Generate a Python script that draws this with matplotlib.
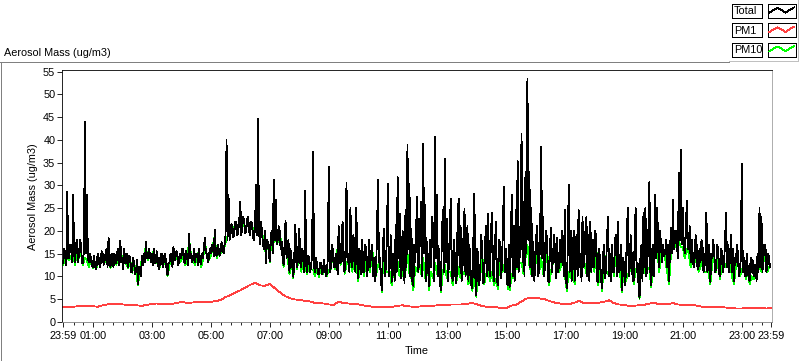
import numpy as np
import matplotlib
matplotlib.use("Agg")
import matplotlib.pyplot as plt
from matplotlib.lines import Line2D
from matplotlib.patches import Rectangle
from matplotlib.ticker import FixedLocator, NullFormatter

plt.rcParams['font.family'] = ['Liberation Sans', 'DejaVu Sans']

# ---------------- data ----------------
start_label = "23:59"
total_step_min = 2      # sampling interval of Total (minutes)
pm10_step_min = 4       # sampling interval of PM10 (minutes)
pm1_step_min = 10       # sampling interval of PM1 (minutes)

# one line per hour
total = [
    13, 16, 15, 12.5, 28.5, 14, 14, 17, 16, 13, 27.8, 15, 13, 17, 18, 13, 15, 18, 17, 13, 13, 16, 44, 15, 28, 14, 13, 15, 14, 12.5,
    12, 14.5, 13, 11.5, 12.5, 15, 14, 12, 13, 15.5, 15, 12.5, 13.5, 15, 16, 12, 18.5, 13, 12, 15, 14, 12, 15, 13, 13, 15.5, 16, 12.5, 17.8, 13,
    14, 11.5, 16, 13, 13, 15, 12, 14.5, 14, 11, 11, 14, 13, 10.5, 11, 13.5, 8.2, 12, 12, 10, 14.5, 12.5, 15, 13, 17.5, 14, 14, 16, 15, 13,
    15, 12.5, 16, 13, 13, 15.5, 14, 11.5, 12.5, 14.5, 15, 12, 13, 15, 14, 11.5, 10.3, 13, 13, 15, 14, 12, 16.5, 13.5, 14, 15.5, 15, 12.5, 13.5, 15,
    14, 16, 16, 13, 13, 15.5, 14, 12.5, 19.4, 14, 15, 13, 14, 16, 13, 15, 15, 12.5, 16, 13.5, 12.6, 15, 14, 16.5, 18.4, 15, 15, 13, 14, 16,
    15, 17, 17, 14.5, 20.2, 15, 14.5, 17, 16, 14.5, 15.5, 17.5, 16.5, 15, 17, 19, 40, 18, 28, 18, 19, 21.5, 21, 18.5, 20, 22, 22, 19, 20, 22.5,
    26.4, 19, 21, 23, 22, 19.5, 20, 22.5, 23, 20, 19, 22, 21.5, 18.5, 18, 21, 30, 19, 44.6, 20, 17, 22, 20, 17, 16, 20, 12.9, 18, 17.6, 15,
    13.3, 19, 20, 15, 31.2, 18, 26.8, 17, 18, 21, 20, 16, 17.6, 14, 12.5, 17, 22.2, 14, 15, 18, 11, 16, 14, 12, 9.9, 15, 21.4, 13, 12, 16,
    20.5, 13, 12, 16, 15, 11, 28.8, 12.5, 11, 14.5, 14, 11, 12, 15, 37.3, 12, 11, 14, 12.5, 10.5, 10.5, 13, 13, 10.5, 11, 13.5, 12, 10, 10.5, 14,
    34, 11, 12, 17, 16, 12, 12, 15, 14, 10.5, 21, 13, 13, 18, 22, 12, 11, 16, 30.5, 13, 15, 11, 25, 14, 12, 19, 17, 11, 25, 13,
    9.6, 16, 15, 10.5, 18, 11, 11, 17, 16, 10, 13, 18, 12, 15, 17, 10, 14, 9, 11, 19, 31.2, 13, 14, 9, 7, 16, 20.5, 10, 12, 18,
    30.4, 10, 12, 19, 8.8, 15, 13, 9, 21.2, 11, 31.8, 14, 23.8, 9.5, 11, 20, 14, 8.5, 24.7, 12, 38.8, 16, 30.4, 10, 20.4, 9, 7.9, 17, 13, 22,
    27.5, 11, 14, 22, 26.3, 10, 39.1, 15, 25.6, 9, 17.6, 12, 7.8, 18, 12, 23, 21, 9, 40.6, 14, 28, 10, 16, 8.5, 7, 19, 24.7, 11, 35.9, 13,
    22.7, 9, 12, 20, 27, 11, 9, 18, 15, 8.5, 10, 22, 27, 12, 21, 9, 12, 19, 24.8, 10, 13.3, 21, 9, 17, 12, 8, 7.4, 18, 28.2, 10,
    5.9, 16, 14, 8, 11, 19, 16, 8.5, 9, 18, 21, 10, 23.8, 12, 10, 20, 24, 11, 9, 17, 22, 9, 8, 18, 17.6, 9.5, 12, 20, 29.7, 11,
    16, 8.5, 8, 17, 7.7, 15, 28, 10, 21, 9, 24.7, 12, 35.3, 11, 14, 22, 41.3, 13, 26.3, 10, 33, 15, 53.4, 18, 33, 12, 25, 10, 17.6, 9,
    13, 19, 21, 10, 12, 20, 38.4, 14, 23, 10, 13, 20, 18, 9, 8.8, 17, 20.7, 11, 14, 19, 16, 9.5, 18.5, 11, 12, 18, 13, 20, 16, 10,
    24.7, 10, 7.4, 16, 30.1, 11, 20, 9, 14, 20, 9, 18, 19, 10, 24.7, 12, 15, 9, 23, 12, 14, 20, 23, 10, 19, 9, 22, 11, 15, 18,
    12, 20, 18, 9, 8.8, 16, 13, 9, 7.4, 15, 17, 9.5, 12, 19, 23, 10, 15, 9, 17, 11, 11, 18, 19, 10, 22, 11, 12, 17, 7, 14,
    13, 8, 10, 18, 25, 10, 12, 19, 15, 9, 9, 17, 25, 11, 13, 8, 5.2, 15, 17, 9, 24, 12, 25, 10, 13, 20, 30.7, 11, 8, 16,
    17, 10, 28, 14, 25, 16, 12, 20, 16, 13, 17, 14.5, 15, 18, 12, 17, 9, 16, 20.7, 15, 26.8, 16, 18, 20, 17, 14, 32.8, 18, 37.7, 17,
    25, 17, 15, 19, 26.5, 16, 16, 21, 13, 18, 15, 12, 14, 19, 17, 11.5, 12, 16, 13, 18, 17, 11, 12, 15, 24, 11, 12, 17, 8.8, 15,
    14, 18, 15, 11, 12, 17, 16, 10.5, 10, 16, 15, 11, 13, 18, 24, 12, 17, 11, 14, 19, 11, 16, 9, 14, 13, 17, 15, 10, 11, 14,
    34.8, 11, 14, 10, 10, 15, 12, 9.5, 9, 14, 11, 13.5, 10, 12.5, 12, 9, 15, 11, 25, 12, 23, 11, 14, 17, 17, 11, 12, 15, 13, 12,
]

pm10 = [
    12.5, 14, 14, 13.5, 14.5, 14.5, 12.5, 16, 14, 15.5, 12.5, 14, 13.5, 12, 13.5,
    11.8, 12.8, 12, 13.5, 12.8, 14.5, 13, 15.5, 17, 11.8, 13.5, 14.5, 12.5, 15.5, 16.5,
    13.5, 15.5, 12.8, 11.8, 13.5, 10.8, 12.8, 10.8, 8, 11.5, 14, 14.5, 16.5, 13.5, 14.5,
    14.5, 15.5, 12.8, 13.5, 12, 14.5, 12.5, 13.5, 10, 12.5, 13.5, 16, 13.5, 14.5, 13,
    13.5, 15.5, 12.5, 13.5, 18, 14.5, 13.5, 12.5, 14.5, 15.5, 12, 13.5, 17.5, 14.5, 13.5,
    14.5, 16.5, 19, 14, 15.5, 15, 16, 16.5, 18.5, 19, 19.5, 21, 20.5, 21.5, 21,
    21, 21.5, 21, 21, 22, 20, 21, 19.5, 20, 20.5, 19, 20, 17, 15, 17.5,
    13, 19.5, 17.5, 18, 17.5, 19.5, 17, 12, 20, 14.5, 10.5, 13.5, 9.5, 19.5, 11.5,
    19, 11, 14.5, 12, 10.5, 13.5, 11.5, 11.5, 10, 12, 9.8, 12.5, 10.5, 11.5, 10,
    11.5, 11.5, 15, 11.5, 13.5, 19.5, 12.5, 20, 10.5, 12.5, 14, 13, 11, 16, 12.5,
    9, 14, 16.5, 10, 15, 12, 11, 16, 13, 10, 12.5, 13, 6.5, 18, 11,
    11, 11, 8, 12, 19, 13, 10, 10, 13, 11, 15, 10.5, 9.5, 7, 12,
    11, 13, 10.5, 14, 9.5, 16, 7, 11, 9.5, 13, 10.5, 15, 6.5, 11, 12.5,
    9.5, 11, 11, 8, 14, 9, 12, 9.5, 11, 10.5, 12, 8.2, 11, 6.8, 10.5,
    5.5, 13, 10, 15, 8.2, 10.5, 11.5, 9, 11, 8, 9.5, 7.2, 16, 11, 11.5,
    15, 7.2, 7, 10.5, 9.5, 12, 11.5, 13, 13, 10.5, 14, 17, 12.5, 10.5, 16,
    12, 18, 11, 14, 10.5, 12, 16.5, 8, 11, 13, 15, 17, 11, 12, 15,
    10.5, 6.8, 11, 9.5, 13, 8.2, 17, 12, 14, 12, 13, 10.5, 17, 11, 14,
    11, 16.5, 8, 12, 6.8, 15.5, 11, 10.5, 14, 15.5, 10, 17, 11, 11, 6.5,
    12, 9, 10.5, 11, 14, 8.2, 11.5, 12, 5, 15.5, 12, 10.5, 12, 11.5, 7.5,
    16, 14, 16, 11, 15, 16, 14, 11, 8.3, 15, 16, 17, 16, 17.5, 16.5,
    16.5, 14, 16, 15, 12, 14, 13, 16, 11, 12, 16, 11, 11, 11, 8.2,
    13, 14, 11, 15, 9.3, 14, 12, 12, 16, 13, 10, 8.3, 12, 14, 10,
    11, 13, 9.3, 11, 8.3, 10, 9.3, 11, 14, 12, 11, 13, 16, 11, 12,
]

pm1 = [
    3.2, 3.3, 3.3, 3.4, 3.4, 3.4, 3.4, 3.3, 3.6, 3.8, 3.9, 3.9,
    3.8, 3.7, 3.7, 3.6, 3.5, 3.7, 3.9, 4.0, 3.9, 3.8, 3.9, 4.1,
    4.3, 4.2, 4.2, 4.3, 4.4, 4.3, 4.4, 4.5, 4.8, 5.4, 5.9, 6.4,
    6.9, 7.5, 8.1, 8.6, 8.0, 7.9, 8.3, 7.4, 6.5, 5.7, 5.2, 4.9,
    4.8, 4.6, 4.5, 4.2, 4.1, 4.0, 3.8, 3.7, 4.4, 4.1, 4.0, 3.9,
    3.8, 3.6, 3.4, 3.3, 3.2, 3.2, 3.3, 3.3, 3.5, 3.6, 3.4, 3.3,
    3.3, 3.4, 3.4, 3.5, 3.6, 3.7, 3.7, 3.8, 3.8, 3.8, 3.9, 4.1,
    3.9, 3.5, 3.3, 3.3, 3.2, 3.0, 2.9, 3.5, 3.7, 4.3, 5.0, 5.3,
    5.2, 5.1, 4.9, 4.5, 4.2, 4.0, 3.9, 3.9, 4.2, 4.6, 4.0, 4.1,
    4.2, 4.2, 4.4, 4.7, 4.1, 3.8, 3.7, 3.5, 3.5, 3.6, 3.7, 3.9,
    4.2, 3.9, 3.9, 3.9, 4.1, 3.8, 3.7, 3.6, 3.7, 3.5, 3.3, 3.2,
    3.2, 3.2, 3.2, 3.1, 3.0, 2.9, 2.9, 3.0, 3.0, 3.0, 3.0, 2.9,
    3.0,
]

tick_labels = ["23:59", "01:00", "03:00", "05:00", "07:00", "09:00", "11:00",
               "13:00", "15:00", "17:00", "19:00", "21:00", "23:00", "23:59"]
y_ticks = [0, 5, 10, 15, 20, 25, 30, 35, 40, 45, 50, 55]
series_names = ["Total", "PM1", "PM10"]
series_colors = ["#000000", "#ff4040", "#00ff00"]
y_title = "Aerosol Mass (ug/m3)"
x_title = "Time"


def minutes_from_start(lbl):
    h, m = map(int, lbl.split(":"))
    sh, sm = map(int, start_label.split(":"))
    return ((h * 60 + m) - (sh * 60 + sm)) % 1440


tick_pos = [minutes_from_start(l) for l in tick_labels]
tick_pos[-1] = 1440
minor_pos = [minutes_from_start("00:00") + 20 * k for k in range(1, 72)]
minor_pos = [p for p in minor_pos if p not in tick_pos]

# ---------------- figure ----------------
W, H = 800, 361
fig = plt.figure(figsize=(W / 100, H / 100), dpi=100)
fig.patch.set_facecolor("white")


def fx(x):
    return x / W


def fy(y):
    return 1 - y / H


ax_l, ax_r, ax_t, ax_b = 62, 772, 70, 322.3
ax = fig.add_axes([fx(ax_l), fy(ax_b), (ax_r - ax_l) / W, (ax_b - ax_t) / H])

t_total = np.arange(len(total)) * total_step_min
t_pm10 = np.arange(len(pm10)) * pm10_step_min
t_pm1 = np.arange(len(pm1)) * pm1_step_min

lw = 0.6
ax.plot(t_pm10, pm10, color=series_colors[2], lw=lw, antialiased=False)
ax.plot(t_pm1, pm1, color=series_colors[1], lw=lw, antialiased=False)
ax.plot(t_total, total, color=series_colors[0], lw=lw, antialiased=False)

m_per_px = 1440 / 708.0
ax.set_xlim(-(63.3 - ax_l) * m_per_px, 1440 + (ax_r - 771.3) * m_per_px)
v_per_px = 55 / 250.0
ax.set_ylim(-(ax_b - 321.7) * v_per_px, (321.7 - ax_t) * v_per_px)

ax.xaxis.set_major_locator(FixedLocator(tick_pos))
ax.set_xticklabels(tick_labels)
ax.xaxis.set_minor_locator(FixedLocator(minor_pos))
ax.xaxis.set_minor_formatter(NullFormatter())
ax.set_yticks(y_ticks)
ax.set_yticklabels([str(v) for v in y_ticks])

ax.tick_params(axis="both", which="both", direction="out", color="black",
               width=0.6, labelsize=7.8, labelcolor="black")
ax.tick_params(axis="y", which="major", length=3.8, pad=1)
ax.tick_params(axis="x", which="major", length=3.8, pad=2.5)
ax.tick_params(axis="x", which="minor", length=2.3)

for s, c in [("left", "black"), ("top", "black"), ("right", "#a0a0a0"), ("bottom", "#808080")]:
    ax.spines[s].set_color(c)
    ax.spines[s].set_linewidth(0.6)
ax.set_facecolor("white")

fig.text(fx(33.5), fy(197), y_title, rotation=90, ha="center", va="center", fontsize=7.8)
fig.text(fx(416.5), fy(351), x_title, ha="center", va="center", fontsize=7.8)
fig.text(fx(4), fy(52.5), y_title, ha="left", va="center", fontsize=7.8)


def fline(xs, ys, color, lw=0.6):
    fig.add_artist(Line2D([fx(x) for x in xs], [fy(y) for y in ys],
                          color=color, lw=lw, antialiased=False,
                          transform=fig.transFigure))


# outer panel frame
fline([0, 729], [61.5, 61.5], "#808080")
fline([0.5, 0.5], [61.5, 361], "#808080")
fline([0, 800], [360.5, 360.5], "black")
fline([799.5, 799.5], [61.5, 361], "black")
fline([729, 797.5], [60.5, 60.5], "#c0c0c0")
fline([797.5, 797.5], [0, 61], "#c0c0c0")

# legend
row_tops = [4, 23.3, 42.7]
for name, col, top in zip(series_names, series_colors, row_tops):
    h = 14
    fig.add_artist(Rectangle((fx(732), fy(top + h)), 30 / W, h / H, transform=fig.transFigure,
                             facecolor="white", edgecolor="black", lw=0.6, antialiased=False))
    fig.add_artist(Rectangle((fx(767.7), fy(top + h)), 28 / W, h / H, transform=fig.transFigure,
                             facecolor="white", edgecolor="black", lw=0.6, antialiased=False))
    fig.text(fx(734), fy(top + h / 2 + 0.3), name, ha="left", va="center", fontsize=7.8)
    sx = [769.5, 773.5, 777.5, 781.5, 785.5, 789.5, 794]
    sy = [top + 8.7, top + 6, top + 4, top + 6, top + 8.7, top + 6, top + 3.5]
    fline(sx, sy, col)

fig.savefig("out.png", dpi=100, facecolor="white")
